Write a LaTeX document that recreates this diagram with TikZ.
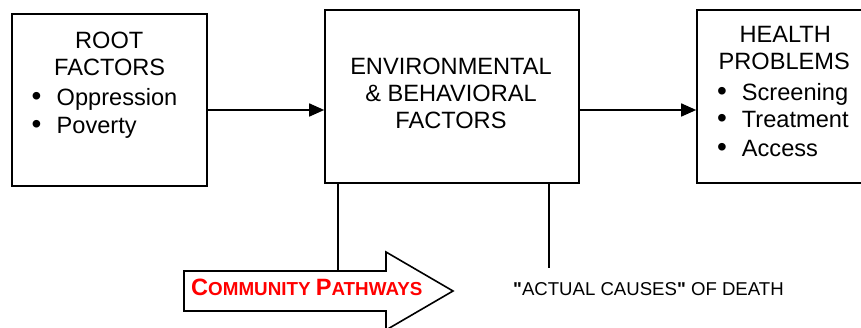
\documentclass[tikz,border=0pt]{standalone}
\usepackage{fontspec}
\setmainfont{Liberation Sans}
\newfontfamily\plainq{Liberation Sans}
\usetikzlibrary{arrows.meta}
\definecolor{cpred}{RGB}{255,0,0}
\begin{document}
\begin{tikzpicture}[x=1pt,y=-1pt,
  box/.style={draw,line width=1.6pt,rectangle,inner sep=0pt},
  txt/.style={anchor=base west,inner sep=0pt,font=\fontsize{23.6}{28}\selectfont},
  bul/.style={anchor=base west,inner sep=0pt,text height=14pt,text depth=0pt,font=\fontsize{28}{28}\selectfont},
  conn/.style={line width=1.6pt},
  arr/.style={line width=1.6pt,-{Triangle[length=15pt,width=13pt]}}]
\useasboundingbox (0,0) rectangle (861,328);
% boxes
\node[box,minimum width=195pt,minimum height=172pt] (root) at (109.5,100) {};
\node[box,minimum width=254pt,minimum height=173pt] (mid) at (452,96.5) {};
\node[box,minimum width=178pt,minimum height=173pt] (hp) at (786,96.5) {};
% root text
\node[txt] (r1) at (75,48.3) {ROOT};
\node[txt] (r2) at (54,76) {FACTORS};
\node[bul] (rb1) at (31.5,105.5) {•};
\node[txt] (r3) at (56.5,105.5) {Oppression};
\node[bul] (rb2) at (31.5,133.5) {•};
\node[txt] (r4) at (56.5,133.5) {Poverty};
% middle text
\node[txt,anchor=base] (m1) at (451,75) {ENVIRONMENTAL};
\node[txt,anchor=base] (m2) at (451,102) {\& BEHAVIORAL};
\node[txt,anchor=base] (m3) at (451,129) {FACTORS};
% right text
\node[txt] (h1) at (739.3,42.5) {HEALTH};
\node[txt] (h2) at (718.5,70) {PROBLEMS};
\node[bul] (hb1) at (717,100.5) {•};
\node[txt] (h3) at (741.7,100.5) {Screening};
\node[bul] (hb2) at (717,128) {•};
\node[txt] (h4) at (741.7,128) {Treatment};
\node[bul] (hb3) at (717,156.5) {•};
\node[txt] (h5) at (741.7,156.5) {Access};
% horizontal arrows
\coordinate (ay) at (0,110);
\draw[arr] (root.east |- ay) -- (mid.west |- ay);
\draw[arr] (mid.east |- ay) -- (hp.west |- ay);
% big arrow
\coordinate (pa) at (184,271);
\coordinate (pb) at (386,271);
\coordinate (pc) at (386,252);
\coordinate (pd) at (453,291);
\coordinate (pe) at (386,330);
\coordinate (pf) at (386,311);
\coordinate (pg) at (184,311);
\draw[line width=1.6pt,line join=miter,fill=white] (pa) -- (pb) -- (pc) -- (pd) -- (pe) -- (pf) -- (pg) -- cycle;
\node[anchor=base west,inner sep=0pt,text=cpred,font=\bfseries] (cp) at (191,295)
  {{\fontsize{23.6}{28}\selectfont C}{\fontsize{18.8}{22}\selectfont OMMUNITY }{\fontsize{23.6}{28}\selectfont P}{\fontsize{18.8}{22}\selectfont ATHWAYS}};
% vertical lines
\coordinate (v1) at (338,0);
\coordinate (v2) at (549,268);
\draw[conn] (mid.south -| v1) -- (pa -| v1);
\draw[conn] (mid.south -| v2) -- (v2);
% bottom text
\node[anchor=base west,inner sep=0pt,font=\fontsize{18.6}{22}\selectfont] (acd) at (513,296)
  {{\plainq\bfseries "}ACTUAL CAUSES{\plainq\bfseries "} OF DEATH};
\end{tikzpicture}
\end{document}
